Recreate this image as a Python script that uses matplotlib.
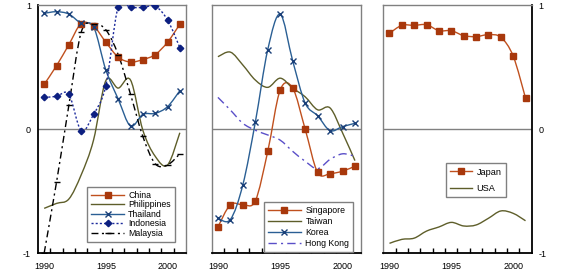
import numpy as np
import matplotlib

matplotlib.use("Agg")
import matplotlib.pyplot as plt
from matplotlib.path import Path
from matplotlib.patches import PathPatch
from matplotlib.lines import Line2D

plt.rcParams["font.family"] = ["Liberation Sans", "DejaVu Sans"]
plt.rcParams["axes.unicode_minus"] = False

years = list(range(1990, 2002))

# panel 1
china = [0.36, 0.51, 0.68, 0.85, 0.83, 0.70, 0.58, 0.54, 0.56, 0.60, 0.70, 0.845]
philippines = [-0.64, -0.60, -0.565, -0.37, -0.09, 0.39, 0.33, 0.395, -0.01, -0.22, -0.29, -0.03]
thailand = [0.933, 0.946, 0.927, 0.852, 0.825, 0.476, 0.242, 0.024, 0.118, 0.126, 0.18, 0.309]
indonesia = [0.255, 0.263, 0.28, -0.013, 0.118, 0.349, 0.986, 0.98, 0.98, 0.99, 0.88, 0.656]
malaysia = [-1.0, -0.43, 0.19, 0.78, 0.85, 0.80, 0.60, 0.28, -0.06, -0.28, -0.29, -0.20]

# panel 2
singapore = [-0.79, -0.61, -0.61, -0.58, -0.18, 0.315, 0.33, 0.0, -0.35, -0.36, -0.34, -0.30]
taiwan = [0.583, 0.62, 0.516, 0.395, 0.336, 0.41, 0.33, 0.26, 0.155, 0.17, -0.03, -0.255]
korea = [-0.72, -0.73, -0.45, 0.054, 0.64, 0.925, 0.55, 0.21, 0.107, -0.013, 0.019, 0.046]
hongkong = [0.255, 0.153, 0.046, -0.01, -0.048, -0.09, -0.18, -0.26, -0.32, -0.245, -0.20, -0.22]

# panel 3
japan = [0.772, 0.836, 0.836, 0.841, 0.793, 0.793, 0.753, 0.745, 0.761, 0.74, 0.589, 0.25]
usa = [-0.922, -0.89, -0.88, -0.823, -0.79, -0.753, -0.782, -0.774, -0.72, -0.661, -0.68, -0.74]

RUST, RUST_M = "#c0501e", "#a8380c"
OLIVE = "#5e5e2a"
BLUE, BLUE_M = "#2a5f94", "#1a3f78"
NAVY = "#1c2a9c"
HK = "#5a4fc8"
GRAY = "#808080"


def smooth_path(x, y):
    """Excel-style smoothed line: Catmull-Rom segments as cubic Beziers."""
    pts = np.column_stack([x, y]).astype(float)
    n = len(pts)
    verts, codes = [pts[0]], [Path.MOVETO]
    for i in range(n - 1):
        p0, p1 = pts[max(i - 1, 0)], pts[i]
        p2, p3 = pts[i + 1], pts[min(i + 2, n - 1)]
        verts += [p1 + (p2 - p0) / 6, p2 - (p3 - p1) / 6, p2]
        codes += [Path.CURVE4] * 3
    return Path(verts, codes)


def series(ax, y, color, ls="-", lw=1.0, marker=None, mfc=None, ms=4, mew=1.0, label=None):
    ax.add_patch(PathPatch(smooth_path(years, y), fill=False, edgecolor=color,
                           lw=lw, ls=ls, zorder=3))
    if marker:
        ax.plot(years, y, ls="none", marker=marker, ms=ms, mfc=mfc or color,
                mec=mfc or color, mew=mew, zorder=4)
    return Line2D([], [], color=color, lw=lw, ls=ls, marker=marker, ms=ms,
                  mfc=mfc or color, mec=mfc or color, mew=mew, label=label)


def style(ax, dark, ylabels=None):
    ax.set_xlim(1989.5, 2001.5)
    ax.set_ylim(-1, 1)
    ax.axhline(0, color=GRAY, lw=1, zorder=1)
    for side, sp in ax.spines.items():
        if side in dark:
            sp.set_color("black")
            sp.set_linewidth(1.3)
        else:
            sp.set_color(GRAY)
            sp.set_linewidth(1.0)
    ax.set_xticks([1990, 1995, 2000])
    ax.set_xticklabels(["1990", "1995", "2000"])
    ax.set_xticks([y + 0.5 for y in years[:-1]], minor=True)
    ax.tick_params(axis="x", which="major", length=0, pad=6.5, labelsize=6.5)
    ax.tick_params(axis="x", which="minor", direction="in", length=3.5,
                   width=1.0, color="black")
    ax.set_yticks([-1, 0, 1])
    if ylabels == "left":
        ax.set_yticklabels(["-1", "0", "1"])
        ax.tick_params(axis="y", length=0, pad=5, labelsize=6.5)
    elif ylabels == "right":
        ax.yaxis.tick_right()
        ax.set_yticklabels(["-1", "0", "1"])
        ax.tick_params(axis="y", length=0, pad=5, labelsize=6.5)
    else:
        ax.set_yticklabels([])
        ax.tick_params(axis="y", length=0)


def legend(ax, handles, anchor, fs, hl, spacing, pad=0.45):
    leg = ax.legend(handles=handles, loc="lower left", bbox_to_anchor=anchor,
                    borderaxespad=0, fontsize=fs, handlelength=hl, handletextpad=0.5,
                    labelspacing=spacing, borderpad=pad, fancybox=False,
                    framealpha=1, edgecolor=GRAY)
    leg.get_frame().set_linewidth(1.0)
    leg.set_zorder(5)


fig = plt.figure(figsize=(5.68, 2.8), dpi=100)
ax1 = fig.add_axes([0.0669, 0.0964, 0.2606, 0.8857])
ax2 = fig.add_axes([0.3727, 0.0964, 0.2632, 0.8857])
ax3 = fig.add_axes([0.6748, 0.0964, 0.2613, 0.8857])

# ---- panel 1 ---------------------------------------------------------
h1 = [
    series(ax1, china, RUST, marker="s", mfc=RUST_M, ms=3.8, label="China"),
    series(ax1, philippines, OLIVE, label="Philippines"),
    series(ax1, thailand, BLUE, marker="x", mfc=BLUE_M, ms=4.5, label="Thailand"),
    series(ax1, indonesia, NAVY, ls=(0, (1.5, 1.5)), marker="D", mfc="#0c1f80",
           ms=3.3, label="Indonesia"),
    series(ax1, malaysia, "black", ls=(0, (5, 2.5, 1.5, 2.5)), marker="_", ms=4,
           label="Malaysia"),
]
style(ax1, dark=("left", "bottom"), ylabels="left")
legend(ax1, h1, (0.331, 0.044), 6.3, 3.7, 0.05, pad=0.5)

# ---- panel 2 ---------------------------------------------------------
h2 = [
    series(ax2, singapore, RUST, marker="s", mfc=RUST_M, ms=3.8, label="Singapore"),
    series(ax2, taiwan, OLIVE, label="Taiwan"),
    series(ax2, korea, BLUE, marker="x", mfc=BLUE_M, ms=4.5, label="Korea"),
    series(ax2, hongkong, HK, ls=(0, (6, 3, 1.5, 3)), label="Hong Kong"),
]
style(ax2, dark=("bottom",))
legend(ax2, h2, (0.349, 0.004), 6.3, 3.8, 0.22)

# ---- panel 3 ---------------------------------------------------------
h3 = [
    series(ax3, japan, RUST, marker="s", mfc=RUST_M, ms=3.8, label="Japan"),
    series(ax3, usa, OLIVE, label="USA"),
]
style(ax3, dark=("right", "bottom"), ylabels="right")
legend(ax3, h3, (0.4225, 0.226), 6.6, 2.4, 0.8)

fig.savefig("out.png", dpi=100)
